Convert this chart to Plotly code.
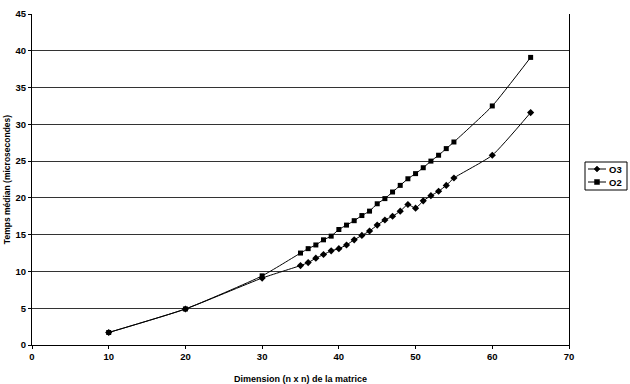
import plotly.graph_objects as go

x_vals = [10, 20, 30, 35, 36, 37, 38, 39, 40, 41, 42, 43, 44, 45, 46, 47, 48, 49, 50,
          51, 52, 53, 54, 55, 60, 65]
o3_vals = [1.7, 4.9, 9.1, 10.8, 11.2, 11.8, 12.3, 12.8, 13.1, 13.6, 14.3, 14.9, 15.5, 16.3,
           17.0, 17.5, 18.2, 19.1, 18.6, 19.6, 20.3, 20.9, 21.7, 22.7, 25.8, 31.6]
o2_vals = [1.7, 4.9, 9.4, 12.5, 13.1, 13.6, 14.3, 14.8, 15.7, 16.3, 16.9, 17.6, 18.2, 19.2,
           19.9, 20.8, 21.7, 22.6, 23.3, 24.1, 25.0, 25.8, 26.7, 27.6, 32.5, 39.1]
x_ticks = [0, 10, 20, 30, 40, 50, 60, 70]
y_ticks = [0, 5, 10, 15, 20, 25, 30, 35, 40, 45]
series_names = ["O3", "O2"]

font_family = "Liberation Sans, Arial, sans-serif"

W, H = 630, 384
ML, MR, MT, MB = 32, 61, 14, 39
PW, PH = W - ML - MR, H - MT - MB


def px(x):
    return (x - ML) / PW


def py(y):
    return (H - MB - y) / PH


fig = go.Figure()
fig.add_trace(go.Scatter(
    x=x_vals, y=o3_vals, name=series_names[0], mode="lines+markers", showlegend=False,
    line=dict(color="black", width=1, shape="spline", smoothing=0.5),
    marker=dict(symbol="diamond", size=5.5, color="black"),
))
fig.add_trace(go.Scatter(
    x=x_vals, y=o2_vals, name=series_names[1], mode="lines+markers", showlegend=False,
    line=dict(color="black", width=1, shape="spline", smoothing=0.5),
    marker=dict(symbol="square", size=5, color="black"),
))

# manual compact legend (Excel style)
shapes = []
annotations = []
shapes.append(dict(type="rect", xref="paper", yref="paper",
                   x0=px(585), x1=px(627), y0=py(190), y1=py(162),
                   line=dict(color="black", width=1), fillcolor="white", layer="above"))
for i, name in enumerate(series_names):
    cy = 169 + i * 13
    shapes.append(dict(type="line", xref="paper", yref="paper",
                       x0=px(588), x1=px(606), y0=py(cy), y1=py(cy),
                       line=dict(color="black", width=1), layer="above"))
    if i == 0:
        d = 3
        path = (f"M {px(597 - d)} {py(cy)} L {px(597)} {py(cy - d)} "
                f"L {px(597 + d)} {py(cy)} L {px(597)} {py(cy + d)} Z")
        shapes.append(dict(type="path", xref="paper", yref="paper", path=path,
                           fillcolor="black", line=dict(color="black", width=0.5), layer="above"))
    else:
        shapes.append(dict(type="rect", xref="paper", yref="paper",
                           x0=px(594.5), x1=px(599.5), y0=py(cy + 2.5), y1=py(cy - 2.5),
                           fillcolor="black", line=dict(color="black", width=0.5), layer="above"))
    annotations.append(dict(xref="paper", yref="paper", x=px(607), y=py(cy),
                            xanchor="left", yanchor="middle", showarrow=False,
                            text=f"<b>{name}</b>",
                            font=dict(family=font_family, size=9.5, color="black")))

fig.update_layout(
    width=W, height=H,
    margin=dict(l=ML, r=MR, t=MT, b=MB, autoexpand=False),
    paper_bgcolor="white", plot_bgcolor="white",
    font=dict(family=font_family, size=9, color="black"),
    showlegend=False,
    shapes=shapes,
    annotations=annotations,
    xaxis=dict(
        range=[0, 70], tickvals=x_ticks, showgrid=False, automargin=False,
        showline=True, linecolor="black", linewidth=1, mirror=False,
        ticks="outside", ticklen=3, tickcolor="black",
        tickfont=dict(family=font_family, size=9.5, color="black", weight="bold"),
        title=dict(text="<b>Dimension (n x n) de la matrice</b>",
                   font=dict(family=font_family, size=9, color="black"), standoff=14),
        zeroline=False,
    ),
    yaxis=dict(
        range=[0, 45], tickvals=y_ticks, showgrid=True, gridcolor="#333333", gridwidth=1,
        showline=True, linecolor="black", linewidth=1, mirror=True, automargin=False,
        ticks="outside", ticklen=3, tickcolor="black",
        tickfont=dict(family=font_family, size=9.5, color="black", weight="bold"),
        title=dict(text="<b>Temps médian (microsecondes)</b>",
                   font=dict(family=font_family, size=8.5, color="black"), standoff=3),
        zeroline=False,
    ),
)

fig.write_html("out.html")
